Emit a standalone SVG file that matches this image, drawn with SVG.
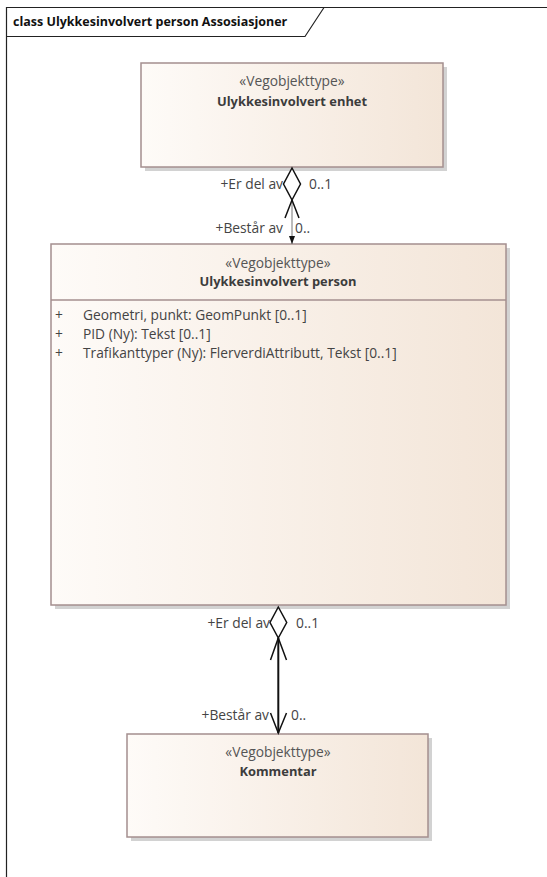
<svg xmlns="http://www.w3.org/2000/svg" width="547" height="877" viewBox="0 0 547 877">
  <defs>
    <linearGradient id="boxfill" x1="0" y1="0" x2="1" y2="0">
      <stop offset="0" stop-color="#fefbf8"/>
      <stop offset="1" stop-color="#f3e5d8"/>
    </linearGradient>
    <marker id="smallarrow" viewBox="0 0 8 6" refX="8" refY="3" markerWidth="8" markerHeight="6" markerUnits="userSpaceOnUse" orient="auto">
      <path d="M0,0 L8,3 L0,6 Z" fill="#111"/>
    </marker>
    <style>
      .box { fill: url(#boxfill); stroke: #a48f8f; stroke-width: 1.5; }
      .shadow { fill: #d2d2d2; }
      .stereo { font-family: "Open Sans", "Liberation Sans", sans-serif; font-size: 13.8px; fill: #555555; text-anchor: middle; }
      .name { font-family: "Open Sans", "Liberation Sans", sans-serif; font-size: 12.9px; font-weight: bold; fill: #3c3c3c; text-anchor: middle; }
      .attr { font-family: "Open Sans", "Liberation Sans", sans-serif; font-size: 13.75px; fill: #444444; }
      .lbl { font-family: "Open Sans", "Liberation Sans", sans-serif; font-size: 13.8px; fill: #444444; }
      .title { font-family: "Open Sans", "Liberation Sans", sans-serif; font-size: 12.5px; font-weight: bold; fill: #111111; }
      .frame { fill: none; stroke: #222222; stroke-width: 1.2; }
      .assoc { fill: none; stroke: #111111; stroke-width: 1.5; }
      .diamond { fill: #ffffff; stroke: #111111; stroke-width: 1.5; }
    </style>
  </defs>

  <rect x="0" y="0" width="547" height="877" fill="#ffffff"/>

  <g id="frame">
    <path class="frame" d="M6.5,877 L6.5,7.5 L547,7.5"/>
    <path class="frame" d="M6.5,36.5 L305,36.5 L324,7.5"/>
    <text class="title" x="13" y="26">class Ulykkesinvolvert person Assosiasjoner</text>
  </g>

  <g id="node-ulykkesinvolvert-enhet">
    <rect class="shadow" x="145" y="67" width="302" height="104"/>
    <rect class="box" x="141" y="63" width="302" height="104"/>
    <text class="stereo" x="292" y="86">«Vegobjekttype»</text>
    <text class="name" x="292" y="106">Ulykkesinvolvert enhet</text>
  </g>

  <g id="node-ulykkesinvolvert-person">
    <rect class="shadow" x="55" y="248" width="455" height="361"/>
    <rect class="box" x="51" y="244" width="455" height="361"/>
    <line x1="51" y1="300" x2="506" y2="300" stroke="#a48f8f" stroke-width="1.5"/>
    <text class="stereo" x="278" y="268">«Vegobjekttype»</text>
    <text class="name" x="278" y="286">Ulykkesinvolvert person</text>
    <text class="attr" x="55" y="320">+</text>
    <text class="attr" x="83" y="320">Geometri, punkt: GeomPunkt [0..1]</text>
    <text class="attr" x="55" y="339">+</text>
    <text class="attr" x="83" y="339">PID (Ny): Tekst [0..1]</text>
    <text class="attr" x="55" y="358">+</text>
    <text class="attr" x="83" y="358">Trafikanttyper (Ny): FlerverdiAttributt, Tekst [0..1]</text>
  </g>

  <g id="node-kommentar">
    <rect class="shadow" x="131" y="738" width="301" height="103"/>
    <rect class="box" x="127" y="734" width="301" height="103"/>
    <text class="stereo" x="278" y="757">«Vegobjekttype»</text>
    <text class="name" x="278" y="776">Kommentar</text>
  </g>

  <g id="connectors">
    <!-- Ulykkesinvolvert enhet <>- Ulykkesinvolvert person -->
    <line x1="292" y1="200" x2="292" y2="244" stroke="#777777" stroke-width="1" marker-end="url(#smallarrow)"/>
    <polyline class="assoc" points="285,218 292,200 299,218"/>
    <path class="diamond" d="M292,168 L300.5,184 L292,200 L283.5,184 Z"/>
    <text class="lbl" x="283" y="189" text-anchor="end">+Er del av</text>
    <text class="lbl" x="309" y="189">0..1</text>
    <text class="lbl" x="283" y="233" text-anchor="end">+Består av</text>
    <text class="lbl" x="295" y="233">0..</text>

    <!-- Ulykkesinvolvert person <>- Kommentar -->
    <line x1="278.3" y1="638" x2="278.3" y2="733" stroke="#111111" stroke-width="2"/>
    <polyline class="assoc" points="270.5,660 278.3,638 286.5,660"/>
    <polyline class="assoc" points="270.5,713 278.3,733 286.5,713"/>
    <path class="diamond" d="M278.3,607 L286.7,622.5 L278.3,638 L270,622.5 Z"/>
    <text class="lbl" x="270" y="628" text-anchor="end">+Er del av</text>
    <text class="lbl" x="296" y="628">0..1</text>
    <text class="lbl" x="269" y="720" text-anchor="end">+Består av</text>
    <text class="lbl" x="291" y="720">0..</text>
  </g>
</svg>
